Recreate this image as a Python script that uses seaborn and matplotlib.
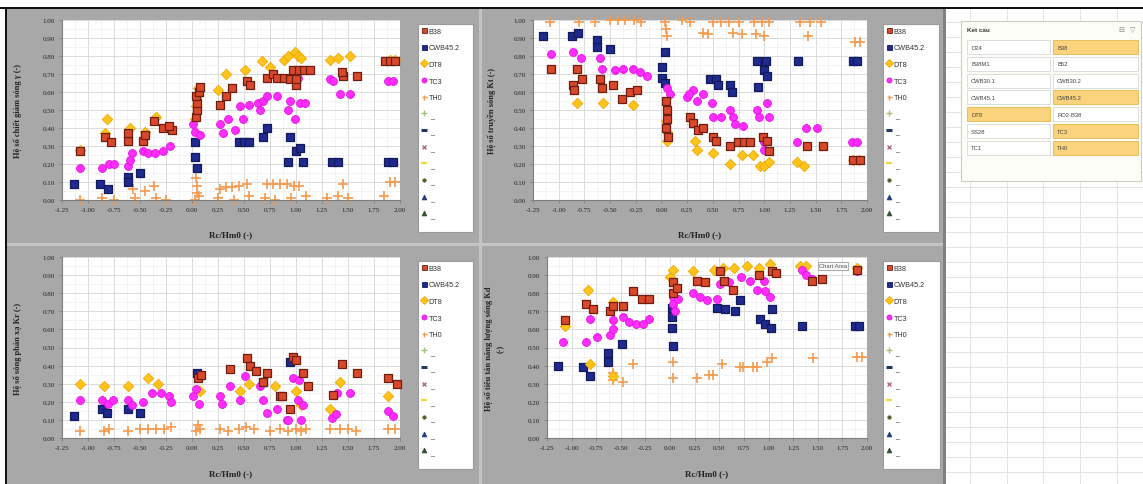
import numpy as np
import pandas as pd
import matplotlib
matplotlib.use("Agg")
import matplotlib.pyplot as plt
import seaborn as sns
from matplotlib.patches import Rectangle
from matplotlib.lines import Line2D
from matplotlib.ticker import MultipleLocator, FormatStrFormatter

# ---------------- data (Rc/Hm0, coefficient) ----------------
series_names = ["B38", "CWB45.2", "DT8", "TC3", "TH0"]
extra_legend_labels = [" _"] * 7

x_ticks = [-1.25, -1.00, -0.75, -0.50, -0.25, 0.00, 0.25, 0.50, 0.75, 1.00, 1.25, 1.50, 1.75, 2.00]
y_ticks = [0.0, 0.1, 0.2, 0.3, 0.4, 0.5, 0.6, 0.7, 0.8, 0.9, 1.0]

# top-left: reduction coefficient gamma
gam_B38 = [(-1.08,0.27),(-0.84,0.35),(-0.78,0.32),(-0.62,0.33),(-0.62,0.37),(-0.47,0.33),(-0.45,0.36),
           (-0.37,0.44),(-0.28,0.40),(-0.19,0.39),(-0.22,0.41),(0.04,0.46),(0.05,0.50),(0.05,0.54),
           (0.04,0.58),(0.07,0.60),(0.08,0.63),(0.27,0.53),(0.33,0.58),(0.38,0.62),(0.53,0.66),(0.56,0.64),
           (0.72,0.68),(0.78,0.70),(0.82,0.68),(0.88,0.68),(0.94,0.67),(0.97,0.72),(1.00,0.64),(1.03,0.72),
           (1.08,0.72),(1.13,0.72),(1.00,0.67),(1.45,0.69),(1.59,0.69),(1.44,0.71),(1.86,0.77),(1.90,0.77),
           (1.95,0.77)]
gam_CWB = [(-1.13,0.09),(-0.88,0.09),(-0.81,0.06),(-0.62,0.13),(-0.62,0.10),(-0.50,0.15),(0.03,0.32),
           (0.03,0.24),(0.05,0.18),(0.45,0.32),(0.50,0.32),(0.55,0.32),(0.68,0.35),(0.72,0.40),(0.94,0.35),
           (0.92,0.21),(1.00,0.27),(1.04,0.29),(1.07,0.21),(1.35,0.21),(1.40,0.21),(1.88,0.21),(1.93,0.21)]
gam_DT8 = [(-1.08,0.28),(-0.82,0.45),(-0.84,0.37),(-0.60,0.40),(-0.45,0.38),(-0.35,0.46),(0.03,0.45),
           (0.04,0.52),(0.05,0.58),(0.06,0.62),(0.25,0.61),(0.33,0.70),(0.51,0.72),(0.67,0.77),(0.75,0.74),
           (0.88,0.78),(0.92,0.80),(0.99,0.82),(1.02,0.80),(1.05,0.79),(1.33,0.78),(1.40,0.79),(1.52,0.80),
           (1.90,0.78),(1.95,0.78)]
gam_TC3 = [(-1.08,0.18),(-0.87,0.18),(-0.80,0.20),(-0.75,0.20),(-0.62,0.19),(-0.58,0.26),(-0.60,0.22),
           (-0.47,0.27),(-0.42,0.26),(-0.36,0.26),(-0.28,0.27),(-0.21,0.30),(0.01,0.42),(0.03,0.38),
           (0.08,0.36),(0.27,0.42),(0.30,0.37),(0.35,0.45),(0.41,0.39),(0.49,0.45),(0.46,0.52),(0.55,0.53),
           (0.63,0.54),(0.68,0.55),(0.72,0.58),(0.82,0.58),(0.65,0.50),(0.92,0.50),(0.94,0.55),(0.99,0.45),
           (1.04,0.54),(1.09,0.54),(0.99,0.67),(1.02,0.68),(1.33,0.67),(1.36,0.66),(1.42,0.59),(1.52,0.59),
           (1.88,0.66),(1.93,0.66)]
gam_TH0 = [(-1.08,0.00),(-0.87,0.01),(-0.75,0.00),(-0.57,0.06),(-0.45,0.05),(-0.37,0.08),(-0.55,0.01),
           (-0.35,0.01),(-0.25,0.00),(0.03,0.00),(0.05,0.04),(0.05,0.08),(0.04,0.12),(0.07,0.02),(0.27,0.06),
           (0.33,0.07),(0.38,0.07),(0.45,0.08),(0.53,0.09),(0.25,0.01),(0.40,0.00),(0.55,0.02),(0.72,0.09),
           (0.78,0.09),(0.85,0.09),(0.91,0.09),(0.70,0.01),(0.80,0.00),(0.98,0.08),(1.03,0.08),(0.95,0.01),
           (1.10,0.02),(1.45,0.09),(1.30,0.01),(1.40,0.02),(1.50,0.01),(1.90,0.10),(1.95,0.10),(1.85,0.02)]

# top-right: transmission coefficient Kt
kt_B38 = [(-1.07,0.73),(-0.82,0.73),(-0.77,0.67),(-0.86,0.64),(-0.85,0.61),(-0.60,0.67),(-0.58,0.62),
          (-0.47,0.64),(-0.38,0.56),(-0.31,0.60),(-0.24,0.61),(0.04,0.55),(0.05,0.50),(0.05,0.45),(0.04,0.40),
          (0.06,0.35),(0.28,0.46),(0.31,0.43),(0.36,0.39),(0.40,0.40),(0.50,0.35),(0.53,0.33),(0.67,0.30),
          (0.74,0.32),(0.80,0.32),(0.86,0.32),(0.99,0.35),(1.03,0.33),(1.05,0.27),(1.42,0.30),(1.57,0.30),
          (1.86,0.22),(1.93,0.22)]
kt_CWB = [(-1.15,0.91),(-0.87,0.91),(-0.81,0.93),(-0.63,0.89),(-0.63,0.85),(-0.50,0.84),(0.03,0.82),
          (0.01,0.74),(0.01,0.68),(0.03,0.65),(0.47,0.67),(0.53,0.67),(0.55,0.64),(0.67,0.64),(0.69,0.60),
          (0.94,0.63),(0.93,0.77),(1.02,0.77),(1.00,0.72),(1.03,0.69),(1.33,0.77),(1.86,0.77),(1.90,0.77)]
kt_DT8 = [(-0.82,0.54),(-0.57,0.54),(-0.28,0.53),(0.04,0.44),(0.05,0.38),(0.05,0.33),(0.33,0.33),
          (0.35,0.28),(0.50,0.26),(0.67,0.20),(0.78,0.25),(0.89,0.25),(0.96,0.19),(1.00,0.19),(1.05,0.21),
          (1.32,0.21),(1.39,0.19),(1.86,0.22),(1.92,0.22)]
kt_TC3 = [(-1.07,0.81),(-0.86,0.82),(-0.78,0.79),(-0.60,0.79),(-0.58,0.73),(-0.45,0.72),(-0.37,0.73),
          (-0.28,0.73),(-0.21,0.71),(-0.14,0.69),(0.05,0.62),(0.08,0.59),(0.25,0.57),(0.31,0.61),(0.35,0.55),
          (0.27,0.59),(0.40,0.59),(0.49,0.54),(0.50,0.46),(0.58,0.46),(0.67,0.50),(0.70,0.46),(0.72,0.42),
          (0.79,0.41),(0.93,0.50),(1.03,0.54),(0.95,0.46),(1.05,0.46),(1.00,0.32),(1.00,0.28),(1.32,0.32),
          (1.41,0.40),(1.51,0.40),(1.85,0.32),(1.90,0.32)]
kt_TH0 = [(-1.08,0.99),(-0.80,0.99),(-0.65,0.99),(-0.50,1.00),(-0.42,1.00),(-0.35,1.00),(-0.27,1.00),
          (-0.20,0.99),(0.03,0.99),(0.04,0.95),(0.05,0.91),(0.20,1.00),(0.28,0.99),(0.40,0.93),(0.45,0.92),
          (0.50,0.99),(0.58,0.99),(0.66,0.99),(0.75,0.99),(0.70,0.93),(0.78,0.92),(0.90,0.99),(0.98,0.99),
          (1.05,0.99),(0.92,0.92),(1.00,0.91),(1.35,0.99),(1.45,0.99),(1.55,0.99),(1.43,0.91),(1.88,0.88),
          (1.93,0.88)]

# bottom-left: reflection coefficient Kr
kr_B38 = [(0.06,0.33),(0.09,0.35),(0.37,0.38),(0.53,0.44),(0.56,0.40),(0.62,0.37),(0.72,0.36),(0.68,0.31),
          (0.85,0.23),(0.94,0.16),(0.97,0.45),(1.00,0.43),(1.07,0.36),(1.12,0.29),(0.87,0.23),(1.44,0.41),
          (1.59,0.36),(1.36,0.24),(1.88,0.33),(1.97,0.30)]
kr_CWB = [(-1.13,0.12),(-0.87,0.16),(-0.82,0.14),(-0.62,0.16),(-0.50,0.14),(0.05,0.36),(0.68,0.31),
          (0.94,0.42)]
kr_DT8 = [(-1.08,0.30),(-0.85,0.29),(-0.62,0.29),(-0.42,0.33),(-0.33,0.30),(0.08,0.26),(0.46,0.26),
          (0.55,0.30),(0.80,0.29),(1.00,0.26),(1.42,0.31),(1.88,0.23),(1.33,0.16),(1.05,0.18)]
kr_TC3 = [(-1.08,0.21),(-0.87,0.21),(-0.81,0.19),(-0.76,0.21),(-0.62,0.21),(-0.58,0.18),(-0.47,0.20),
          (-0.38,0.25),(-0.30,0.25),(-0.22,0.23),(-0.20,0.20),(0.01,0.23),(0.04,0.27),(0.07,0.19),(0.27,0.23),
          (0.29,0.19),(0.37,0.29),(0.46,0.21),(0.51,0.34),(0.65,0.29),(0.68,0.21),(0.72,0.14),(0.82,0.16),
          (0.91,0.10),(0.97,0.33),(1.03,0.32),(1.02,0.21),(1.07,0.18),(0.92,0.10),(1.05,0.10),(1.39,0.25),
          (1.52,0.25),(1.35,0.11),(1.38,0.13),(1.88,0.15),(1.93,0.12)]
kr_TH0 = [(-1.08,0.04),(-0.85,0.04),(-0.80,0.05),(-0.62,0.04),(-0.50,0.05),(-0.42,0.05),(-0.35,0.05),
          (-0.27,0.05),(-0.20,0.06),(0.04,0.04),(0.06,0.07),(0.08,0.05),(0.27,0.05),(0.35,0.04),(0.45,0.05),
          (0.52,0.06),(0.60,0.05),(0.75,0.04),(0.85,0.05),(0.92,0.04),(1.00,0.05),(1.05,0.04),(1.10,0.05),
          (1.33,0.05),(1.42,0.05),(1.50,0.05),(1.58,0.04),(1.88,0.05),(1.95,0.05)]

# bottom-right: dissipation coefficient Kd
kd_B38 = [(-1.07,0.65),(-0.85,0.74),(-0.78,0.71),(-0.61,0.70),(-0.58,0.73),(-0.48,0.73),(-0.38,0.81),
          (-0.29,0.77),(-0.21,0.77),(0.03,0.86),(0.03,0.80),(0.07,0.83),(0.27,0.87),(0.35,0.86),(0.51,0.92),
          (0.55,0.87),(0.64,0.82),(0.90,0.90),(1.04,0.92),(1.08,0.91),(1.44,0.87),(1.54,0.88),(1.90,0.93)]
kd_CWB = [(-1.14,0.40),(-0.88,0.39),(-0.81,0.34),(-0.63,0.47),(-0.63,0.42),(-0.49,0.52),(0.02,0.72),
          (0.02,0.67),(0.02,0.61),(0.03,0.51),(0.48,0.72),(0.56,0.71),(0.66,0.70),(0.71,0.76),(0.91,0.66),
          (0.96,0.63),(1.03,0.61),(1.04,0.71),(1.34,0.62),(1.88,0.62),(1.92,0.62)]
kd_DT8 = [(-1.07,0.62),(-0.83,0.82),(-0.81,0.41),(-0.58,0.75),(-0.58,0.34),(0.00,0.89),(0.03,0.93),
          (0.23,0.92),(0.45,0.93),(0.54,0.94),(0.65,0.94),(0.78,0.95),(0.90,0.94),(1.01,0.96),(1.32,0.95),
          (1.38,0.95),(1.90,0.94)]
kd_TC3 = [(-1.09,0.53),(-0.85,0.53),(-0.81,0.66),(-0.74,0.56),(-0.61,0.57),(-0.58,0.60),(-0.58,0.65),
          (-0.48,0.67),(-0.42,0.64),(-0.35,0.63),(-0.28,0.63),(-0.21,0.66),(0.03,0.78),(0.03,0.74),(0.05,0.70),
          (0.08,0.77),(0.23,0.80),(0.30,0.78),(0.37,0.76),(0.48,0.77),(0.51,0.85),(0.60,0.86),(0.72,0.89),
          (0.81,0.87),(0.88,0.82),(0.96,0.81),(1.01,0.78),(0.95,0.87),(1.04,0.92),(1.34,0.93),(1.38,0.90),
          (1.44,0.88),(1.90,0.92)]
kd_TH0 = [(-0.58,0.36),(-0.58,0.32),(-0.48,0.31),(-0.38,0.41),(0.03,0.42),(0.03,0.33),(0.27,0.33),
          (0.40,0.35),(0.44,0.35),(0.53,0.41),(0.71,0.39),(0.74,0.39),(0.84,0.39),(0.88,0.39),(0.98,0.42),
          (1.04,0.44),(1.45,0.44),(1.90,0.45),(1.95,0.45)]

slicer_title = "Kết cấu"
slicer_items = ["D24", "B38", "B38M1", "B52", "CWB30.1", "CWB30.2", "CWB45.1", "CWB45.2",
                "DT8", "RO2-B38", "SS28", "TC3", "TC1", "TH0"]
slicer_selected = ["B38", "CWB45.2", "DT8", "TC3", "TH0"]

# ---------------- styles ----------------
W, H = 1143, 485
sns.set_style("white")
SERIF = ['Liberation Serif', 'DejaVu Serif']
SANS = ['Liberation Sans', 'DejaVu Sans']
plt.rcParams['font.family'] = SERIF

style = {
    "B38":     dict(marker="s", color="#d9482a", edgecolor="#6e1e10", s=38, linewidth=0.9),
    "CWB45.2": dict(marker="s", color="#1e2a8e", edgecolor="#121a5c", s=38, linewidth=0.9),
    "DT8":     dict(marker="D", color="#ffc41a", edgecolor="#eea800", s=28, linewidth=0.6),
    "TC3":     dict(marker="o", color="#ff2eff", edgecolor="#e010e0", s=32, linewidth=0.6),
    "TH0":     dict(marker="+", color="#f59a4c", s=55, linewidth=1.2),
}
zorders = {"TH0": 2, "CWB45.2": 3, "TC3": 4, "B38": 5, "DT8": 3.5}
legend_extra = [
    dict(marker="+", color="#a6c27a", ms=4, mew=1.0),
    dict(marker="_", color="#1f3864", ms=5, mew=2.2),
    dict(marker="x", color="#b07080", ms=3.5, mew=1.0),
    dict(marker="_", color="#f0d840", ms=5, mew=1.6),
    dict(marker="o", color="#4f6228", ms=2.5, mew=0.5),
    dict(marker="^", color="#1f3c7d", ms=3.5, mew=0.5),
    dict(marker="^", color="#2f4f2f", ms=3.5, mew=0.5),
]

panels = [
    dict(ax=(62, 21, 338, 180), leg=(418, 25, 55, 208),
         data={"B38": gam_B38, "CWB45.2": gam_CWB, "DT8": gam_DT8, "TC3": gam_TC3, "TH0": gam_TH0},
         ylabel="Hệ số chiết giảm sóng γ (-)", ylab_x=22, xlab_y=231),
    dict(ax=(533, 21, 334, 180), leg=(883, 25, 56, 208),
         data={"B38": kt_B38, "CWB45.2": kt_CWB, "DT8": kt_DT8, "TC3": kt_TC3, "TH0": kt_TH0},
         ylabel="Hệ số truyền sóng Kt (-)", ylab_x=496, xlab_y=231),
    dict(ax=(62, 258, 338, 181), leg=(418, 262, 55, 208),
         data={"B38": kr_B38, "CWB45.2": kr_CWB, "DT8": kr_DT8, "TC3": kr_TC3, "TH0": kr_TH0},
         ylabel="Hệ số sóng phản xạ Kr (-)", ylab_x=22, xlab_y=470),
    dict(ax=(547, 258, 320, 181), leg=(883, 262, 57, 208),
         data={"B38": kd_B38, "CWB45.2": kd_CWB, "DT8": kd_DT8, "TC3": kd_TC3, "TH0": kd_TH0},
         ylabel="Hệ số tiêu tán năng lượng sóng Kd\n(-)", ylab_x=505, xlab_y=470),
]

fig = plt.figure(figsize=(W / 100, H / 100), dpi=100)
fig.patch.set_facecolor("white")


def frac(x, y, w, h):
    return [x / W, 1 - (y + h) / H, w / W, h / H]


# background decorations (pixel space)
under = fig.add_axes([0, 0, 1, 1], zorder=-10)
under.set_xlim(0, W)
under.set_ylim(H, 0)
under.axis("off")
under.add_patch(Rectangle((7, 9), 938, H - 9, fc="#a8a8a8", ec="none"))
under.add_patch(Rectangle((7, 244), 938, 3, fc="#c4c4c4", ec="none"))
under.add_patch(Rectangle((479, 9), 3, H - 9, fc="#c4c4c4", ec="none"))
under.add_patch(Rectangle((943, 9), 3, H - 9, fc="#808080", ec="none"))
under.add_patch(Rectangle((0, 8), W, 1.6, fc="#111111", ec="none"))
under.add_patch(Rectangle((5, 8), 1.8, H - 8, fc="#111111", ec="none"))

# spreadsheet area on the right
sheet = fig.add_axes(frac(946, 10, W - 946, H - 10), zorder=-9)
sheet.set_xlim(0, W - 946)
sheet.set_ylim(H - 10, 0)
sheet.set_xticks([24, 61, 97, 134, 171])
sheet.set_yticks(np.arange(13, H - 10, 15))
sheet.grid(True, color="#dedede", linewidth=0.6)
sheet.tick_params(length=0, labelbottom=False, labelleft=False)
for sp in sheet.spines.values():
    sp.set_visible(False)
sheet.set_facecolor("white")

# slicer
sl = fig.add_axes([0, 0, 1, 1], zorder=-8)
sl.set_xlim(0, W)
sl.set_ylim(H, 0)
sl.axis("off")
sl.add_patch(Rectangle((961, 22), 180, 160, fc="#fdfdf8", ec="#cfcfc0", lw=0.8))
sl.text(967, 31, slicer_title, fontsize=4.6, fontweight="bold", family=SANS, va="center", color="#333333")
sl.text(1118, 31, "⊟", fontsize=5, family=SANS, va="center", color="#888888")
sl.text(1130, 31, "▽", fontsize=5, family=SANS, va="center", color="#888888")
for i, item in enumerate(slicer_items):
    row, col = divmod(i, 2)
    bx = 967 if col == 0 else 1053
    bw = 83 if col == 0 else 85
    by = 41 + row * 16.8
    sel = item in slicer_selected
    sl.add_patch(Rectangle((bx, by), bw, 14, fc="#fbd37c" if sel else "white",
                           ec="#e2b84e" if sel else "#d8d8d8", lw=0.6))
    sl.text(bx + 4, by + 7.2, item, fontsize=4.2, family=SANS, va="center", color="#444444")

# ---------------- charts ----------------
for p in panels:
    ax = fig.add_axes(frac(*p["ax"]))
    ax.set_facecolor("white")
    for name in series_names:
        pts = pd.DataFrame(p["data"][name], columns=["rc", "k"])
        st = style[name]
        kw = dict(marker=st["marker"], color=st["color"], s=st["s"], linewidth=st["linewidth"])
        if "edgecolor" in st:
            kw["edgecolor"] = st["edgecolor"]
        sns.scatterplot(data=pts, x="rc", y="k", ax=ax, legend=False, zorder=zorders[name], **kw)
    for c in ax.collections:
        c.set_clip_on(False)
    ax.set_xlim(x_ticks[0], x_ticks[-1])
    ax.set_ylim(y_ticks[0], y_ticks[-1])
    ax.set_xticks(x_ticks)
    ax.set_yticks(y_ticks)
    ax.xaxis.set_major_formatter(FormatStrFormatter("%.2f"))
    ax.yaxis.set_major_formatter(FormatStrFormatter("%.2f"))
    ax.xaxis.set_minor_locator(MultipleLocator(0.125))
    ax.yaxis.set_minor_locator(MultipleLocator(0.05))
    ax.grid(True, which="major", color="#d6d6d6", linewidth=0.6)
    ax.grid(True, which="minor", color="#efefef", linewidth=0.5)
    ax.set_axisbelow(True)
    for s in ["top", "right"]:
        ax.spines[s].set_visible(False)
    for s in ["left", "bottom"]:
        ax.spines[s].set_color("#7f7f7f")
        ax.spines[s].set_linewidth(0.8)
    ax.tick_params(which="major", direction="out", length=2.5, width=0.6, color="#7f7f7f",
                   labelsize=5, pad=2.5, labelcolor="#222222", left=True, bottom=True)
    ax.tick_params(which="minor", length=0)
    ax.set_xlabel("Rc/Hm0 (-)", fontsize=6.5, fontweight="bold", color="#222222")
    ax.set_ylabel(p["ylabel"], fontsize=6, fontweight="bold", color="#222222", linespacing=1.6)
    axx, axy, axw, axh = p["ax"]
    ax.xaxis.set_label_coords(0.5, -(p["xlab_y"] - (axy + axh)) / axh)
    ax.yaxis.set_label_coords((p["ylab_x"] - axx) / axw, 0.5)

    # legend box
    lx, ly, lw_, lh = p["leg"]
    under.add_patch(Rectangle((lx, ly), lw_, lh, fc="white", ec="#9a9a9a", lw=0.8, zorder=3))
    handles = []
    for name in series_names:
        st = style[name]
        handles.append(Line2D([], [], linestyle="none", marker=st["marker"],
                              markerfacecolor=st["color"], markeredgecolor=st.get("edgecolor", st["color"]),
                              color=st["color"], markersize=3.6, markeredgewidth=0.6 if st["marker"] != "+" else 1.0))
    for e in legend_extra:
        handles.append(Line2D([], [], linestyle="none", marker=e["marker"], color=e["color"],
                              markerfacecolor=e["color"], markeredgecolor=e["color"],
                              markersize=e["ms"], markeredgewidth=e["mew"]))
    labels = series_names + extra_legend_labels
    fig.legend(handles, labels, loc="upper left", bbox_to_anchor=(lx / W + 0.0005, 1 - (ly + 1) / H),
               frameon=False, prop=dict(family=SANS, size=5.2), labelspacing=1.33,
               handlelength=0.7, handletextpad=0.35, borderpad=0.35, borderaxespad=0.0,
               labelcolor="#333333")

# "Chart Area" tooltip
fig.text(833 / W, 1 - 267 / H, "Chart Area", fontsize=4.2, family=SANS, ha="center", va="center",
         color="#555555", bbox=dict(boxstyle="square,pad=0.25", fc="#f6f6f6", ec="#8a8a8a", lw=0.5))

fig.savefig("out.png", dpi=100)
